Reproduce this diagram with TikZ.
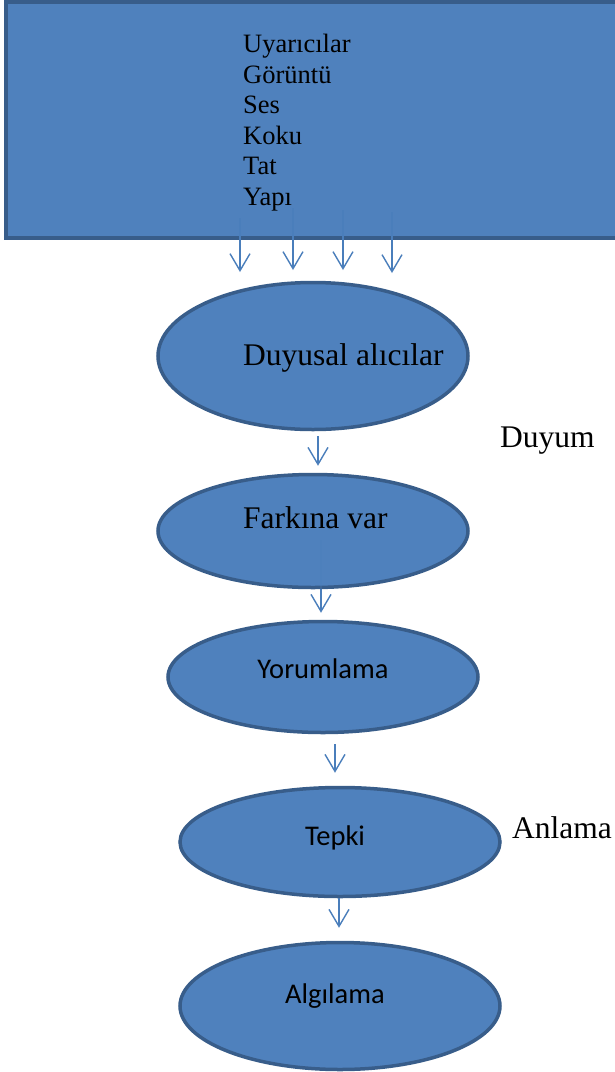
\documentclass[tikz,border=0pt]{standalone}
\usepackage{fontspec}
\setmainfont{Liberation Serif}
\newfontfamily\calfont{Carlito}
\usepackage{tikz}
\usetikzlibrary{arrows.meta,shapes.geometric}
\definecolor{boxblue}{HTML}{4F81BD}
\definecolor{edgeblue}{HTML}{385D8A}
\definecolor{arrowblue}{HTML}{4A7EBB}

\tikzset{
  blob/.style={ellipse,draw=edgeblue,line width=3.5pt,fill=boxblue,inner sep=0pt},
  flow/.style={-{Straight Barb[length=17pt,width=20pt,line width=1.4pt]},arrowblue,line width=1.4pt},
  serif/.style={inner sep=0pt,anchor=base west,font=\fontsize{31.5}{34}\selectfont},
  calib/.style={inner sep=0pt,anchor=base,font=\calfont\fontsize{28.5}{32}\selectfont}
}

\begin{document}
\begin{tikzpicture}[x=1pt,y=-1pt]
\useasboundingbox (0,0) rectangle (614,1072);
\node[rectangle,draw=edgeblue,line width=4pt,fill=boxblue,minimum width=620pt,minimum height=236pt,inner sep=0pt] (stim) at (315.5,120) {};
\node[inner sep=0pt,anchor=north west,align=left,font=\fontsize{26.5}{30.6}\selectfont] (stimtext) at (243,34) {Uyarıcılar\\Görüntü\\Ses\\Koku\\Tat\\Yapı};
\node[blob,minimum width=310pt,minimum height=147pt] (duyusal) at (313,356) {};
\node[serif] (duyusaltext) at (243,365) {Duyusal alıcılar};
\node[blob,minimum width=310pt,minimum height=113pt] (farkina) at (313,531) {};
\node[serif] (farkinatext) at (243,528) {Farkına var};
\node[blob,minimum width=310pt,minimum height=111pt] (yorum) at (323,677) {};
\node[calib] (yorumtext) at (323,678) {Yorumlama};
\node[blob,minimum width=320pt,minimum height=109pt] (tepki) at (340,842) {};
\node[calib] (tepkitext) at (335,845) {Tepki};
\node[blob,minimum width=320pt,minimum height=127pt] (algi) at (340,1006) {};
\node[calib] (algitext) at (335,1003) {Algılama};
\node[serif] (duyum) at (500,447) {Duyum};
\node[serif] (anlama) at (512,838) {Anlama};
% stimuli into the receptors
\foreach \x/\ya/\yb in {240/218/272,293/208/270,343/210/270,392/212/273}
  \draw[flow] (\x,\ya) coordinate (top\x) -- (\x,\yb) coordinate (tip\x);
\draw[flow,shorten <=5pt,shorten >=7pt] ([xshift=5pt]duyusal.south) -- ([xshift=5pt]farkina.north);
% faint part seen through the ellipse
\draw[arrowblue,line width=1.4pt,opacity=0.3] ([xshift=8pt,yshift=-9pt]farkina.center) -- ([xshift=8pt]farkina.south);
\draw[flow,shorten >=7pt] ([xshift=8pt]farkina.south) -- ([xshift=-2pt]yorum.north);
\draw[flow,shorten <=10pt,shorten >=13pt] ([xshift=12pt]yorum.south) -- ([xshift=-5pt]tepki.north);
\draw[flow,shorten >=13pt] ([xshift=-1pt]tepki.south) -- ([xshift=-1pt]algi.north);
\end{tikzpicture}
\end{document}
